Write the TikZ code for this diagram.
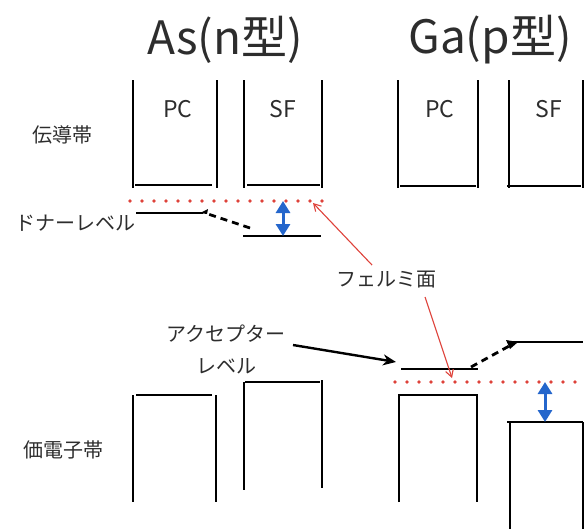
\documentclass[tikz,border=0pt]{standalone}
\usepackage{fontspec}
\setmainfont{Noto Sans CJK JP}
\usetikzlibrary{arrows.meta}
\definecolor{fermired}{RGB}{222,66,58}
\definecolor{gapblue}{RGB}{36,102,204}
\definecolor{txtgray}{RGB}{45,45,45}
\begin{document}
\begin{tikzpicture}[x=1pt,y=-1pt,
  band/.style={line width=2.6pt, black},
  fermiline/.style={fermired, line width=3.8pt, dash pattern=on 0pt off 12pt, line cap=round},
  gaparrow/.style={gapblue, line width=3pt, {Triangle[width=14pt,length=12pt]}-{Triangle[width=14pt,length=12pt]}},
  fermiarrow/.style={fermired, line width=1.1pt, -{Straight Barb[length=7pt,width=8pt]}},
  levelarrow/.style={black, line width=2.8pt, dash pattern=on 7pt off 5pt},
  acceptarrow/.style={black, line width=2.4pt, -{Stealth[length=13pt,width=11pt]}},
  title/.style={font=\fontsize{46}{52}\selectfont, text=txtgray, inner sep=0pt},
  boxlabel/.style={font=\fontsize{23}{26}\selectfont, text=txtgray, inner sep=0pt},
  jlabel/.style={font=\fontsize{20}{32}\selectfont, text=txtgray, inner sep=0pt, align=center}
]
\useasboundingbox (0,0) rectangle (585,531);

% titles
\node[title] (tAs) at (225,40) {As(n型)};
\node[title] (tGa) at (490,40) {Ga(p型)};

% side labels
\node[jlabel] (cb) at (62,135) {伝導帯};
\node[jlabel] (donor) at (75,223) {ドナーレベル};
\node[jlabel] (vb) at (63,450) {価電子帯};

% box labels
\node[boxlabel] (pc1) at (178,109) {PC};
\node[boxlabel] (sf1) at (283,109) {SF};
\node[boxlabel] (pc2) at (440,109) {PC};
\node[boxlabel] (sf2) at (549,109) {SF};

% conduction bands
\draw[band] (133,80) -- (133,188);
\draw[band] (217,80) -- (217,188);
\draw[band] (135,185) -- (212,185);
\draw[band] (244,80) -- (244,188);
\draw[band] (322,80) -- (322,188);
\draw[band] (247,185) -- (320,185);
\draw[band] (398,80) -- (398,188);
\draw[band] (478,80) -- (478,188);
\draw[band] (400,186) -- (476,186);
\draw[band] (509,80) -- (509,188);
\draw[band] (583,80) -- (583,188);
\draw[band] (507,186) -- (581,186);

% valence bands
\draw[band] (133,395) -- (133,502);
\draw[band] (216,395) -- (216,502);
\draw[band] (136,395) -- (212,395);
\draw[band] (244,382) -- (244,490);
\draw[band] (322,380) -- (322,488);
\draw[band] (245,382) -- (320,382);
\draw[band] (399,502) -- (399,395) -- (477,395) -- (477,502);
\draw[band] (510,422) -- (510,529);
\draw[band] (583,422) -- (583,529);
\draw[band] (507,422) -- (583,422);

% donor levels
\coordinate (d1a) at (136,213);
\coordinate (d1b) at (203,213);
\coordinate (d2a) at (243,236);
\coordinate (d2b) at (321,236);
\draw[band] (d1a) -- (d1b);
\draw[band] (d2a) -- (d2b);
\coordinate (dd1) at (250,228);
\coordinate (dd2) at (205,213);
\draw[levelarrow] (dd1) -- (dd2);
\fill (200,213) -- (208,209) -- (207,214) -- cycle;

% acceptor levels
\coordinate (a1a) at (401,369);
\coordinate (a1b) at (478,369);
\coordinate (a2a) at (507,342);
\coordinate (a2b) at (583,342);
\draw[band] (a1a) -- (a1b);
\draw[band] (a2a) -- (a2b);
\coordinate (ad1) at (471,367);
\coordinate (ad2) at (511,345);
\draw[levelarrow] (ad1) -- (ad2);
\fill (518,342) -- (506,340) -- (510,349) -- cycle;

% fermi levels
\coordinate (fl1a) at (130,201);
\coordinate (fl1b) at (323,201);
\coordinate (fl2a) at (395,382);
\coordinate (fl2b) at (585,382);
\draw[fermiline] (fl1a) -- (fl1b);
\draw[fermiline] (fl2a) -- (fl2b);

% gap arrows
\coordinate (g1a) at (283,201);
\coordinate (g1b) at (283,236);
\coordinate (g2a) at (545,382);
\coordinate (g2b) at (545,422);
\draw[gaparrow] (g1a) -- (g1b);
\draw[gaparrow] (g2a) -- (g2b);

% fermi label and arrows
\node[jlabel] (fermi) at (386,280) {フェルミ面};
\coordinate (fs1) at (372,265);
\coordinate (fe1) at (313,203);
\coordinate (fs2) at (425,297);
\coordinate (fe2) at (452,378);
\draw[fermiarrow] (fs1) -- (fe1);
\draw[fermiarrow] (fs2) -- (fe2);

% acceptor label and arrow
\node[jlabel] (acc) at (226,349) {アクセプター\\レベル};
\coordinate (as) at (293,345);
\coordinate (ae) at (396,362);
\draw[acceptarrow] (as) -- (ae);
\end{tikzpicture}
\end{document}
